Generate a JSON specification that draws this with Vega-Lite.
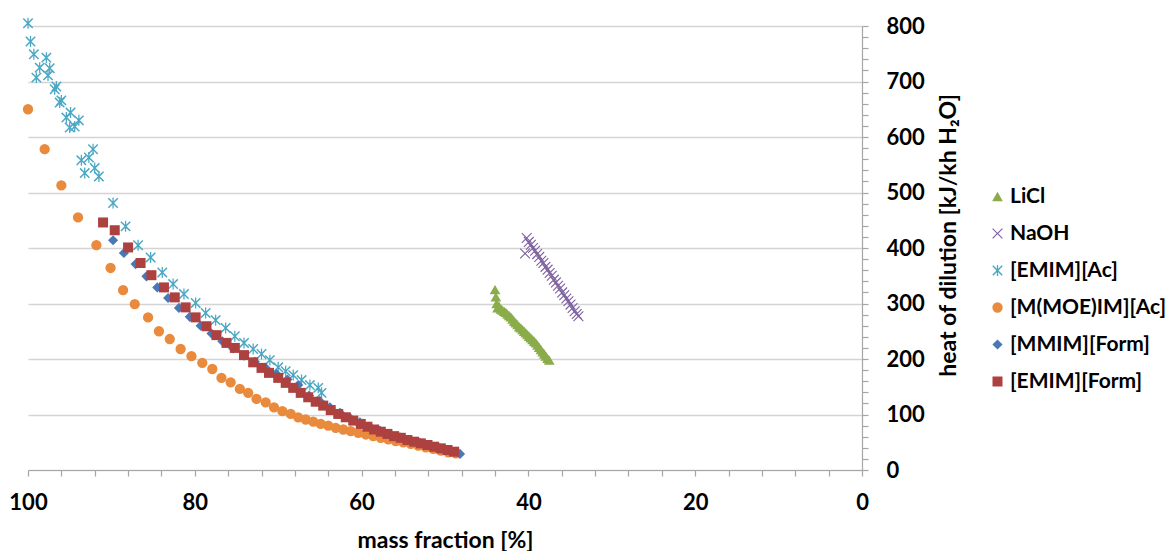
{
  "$schema": "https://vega.github.io/schema/vega-lite/v6.json",
  "autosize": {"type": "none"},
  "padding": {"left": 28, "top": 26, "right": 308, "bottom": 81},
  "width": 834,
  "height": 444,
  "background": "white",
  "config": {"view": {"stroke": null}, "font": "Lato"},
  "data": {"values": [
    {"series": "LiCl", "mf": 44.0, "h": 325}, {"series": "LiCl", "mf": 43.9, "h": 312}, {"series": "LiCl", "mf": 43.8, "h": 300},
    {"series": "LiCl", "mf": 43.7, "h": 292}, {"series": "LiCl", "mf": 43.5, "h": 295}, {"series": "LiCl", "mf": 43.3, "h": 290},
    {"series": "LiCl", "mf": 43.1, "h": 288}, {"series": "LiCl", "mf": 42.9, "h": 286}, {"series": "LiCl", "mf": 42.7, "h": 284},
    {"series": "LiCl", "mf": 42.5, "h": 281}, {"series": "LiCl", "mf": 42.3, "h": 278}, {"series": "LiCl", "mf": 42.1, "h": 276},
    {"series": "LiCl", "mf": 41.9, "h": 272}, {"series": "LiCl", "mf": 41.7, "h": 268}, {"series": "LiCl", "mf": 41.5, "h": 265},
    {"series": "LiCl", "mf": 41.3, "h": 262}, {"series": "LiCl", "mf": 41.1, "h": 258}, {"series": "LiCl", "mf": 40.9, "h": 256},
    {"series": "LiCl", "mf": 40.7, "h": 253}, {"series": "LiCl", "mf": 40.5, "h": 250}, {"series": "LiCl", "mf": 40.3, "h": 247},
    {"series": "LiCl", "mf": 40.1, "h": 244}, {"series": "LiCl", "mf": 39.9, "h": 241}, {"series": "LiCl", "mf": 39.7, "h": 238},
    {"series": "LiCl", "mf": 39.5, "h": 235}, {"series": "LiCl", "mf": 39.3, "h": 232}, {"series": "LiCl", "mf": 39.1, "h": 229},
    {"series": "LiCl", "mf": 38.9, "h": 225}, {"series": "LiCl", "mf": 38.7, "h": 221}, {"series": "LiCl", "mf": 38.5, "h": 217},
    {"series": "LiCl", "mf": 38.3, "h": 213}, {"series": "LiCl", "mf": 38.1, "h": 209}, {"series": "LiCl", "mf": 37.9, "h": 205},
    {"series": "LiCl", "mf": 37.7, "h": 201}, {"series": "LiCl", "mf": 37.5, "h": 198},
    {"series": "NaOH", "mf": 40.4, "h": 390}, {"series": "NaOH", "mf": 40.2, "h": 418}, {"series": "NaOH", "mf": 39.95, "h": 411},
    {"series": "NaOH", "mf": 39.7, "h": 406}, {"series": "NaOH", "mf": 39.45, "h": 400}, {"series": "NaOH", "mf": 39.2, "h": 395},
    {"series": "NaOH", "mf": 38.95, "h": 389}, {"series": "NaOH", "mf": 38.7, "h": 384}, {"series": "NaOH", "mf": 38.45, "h": 377},
    {"series": "NaOH", "mf": 38.2, "h": 373}, {"series": "NaOH", "mf": 37.95, "h": 366}, {"series": "NaOH", "mf": 37.7, "h": 361},
    {"series": "NaOH", "mf": 37.45, "h": 355}, {"series": "NaOH", "mf": 37.2, "h": 350}, {"series": "NaOH", "mf": 36.95, "h": 343},
    {"series": "NaOH", "mf": 36.7, "h": 338}, {"series": "NaOH", "mf": 36.45, "h": 332}, {"series": "NaOH", "mf": 36.2, "h": 327},
    {"series": "NaOH", "mf": 35.95, "h": 320}, {"series": "NaOH", "mf": 35.7, "h": 315}, {"series": "NaOH", "mf": 35.45, "h": 309},
    {"series": "NaOH", "mf": 35.2, "h": 304}, {"series": "NaOH", "mf": 34.95, "h": 298}, {"series": "NaOH", "mf": 34.7, "h": 292},
    {"series": "NaOH", "mf": 34.45, "h": 286}, {"series": "NaOH", "mf": 34.2, "h": 281}, {"series": "NaOH", "mf": 34.0, "h": 277},
    {"series": "[EMIM][Ac]", "mf": 100.0, "h": 805}, {"series": "[EMIM][Ac]", "mf": 99.7, "h": 772}, {"series": "[EMIM][Ac]", "mf": 99.3, "h": 749},
    {"series": "[EMIM][Ac]", "mf": 97.8, "h": 743}, {"series": "[EMIM][Ac]", "mf": 98.6, "h": 725}, {"series": "[EMIM][Ac]", "mf": 97.4, "h": 724},
    {"series": "[EMIM][Ac]", "mf": 99.0, "h": 707}, {"series": "[EMIM][Ac]", "mf": 97.6, "h": 711}, {"series": "[EMIM][Ac]", "mf": 96.6, "h": 691},
    {"series": "[EMIM][Ac]", "mf": 96.8, "h": 686}, {"series": "[EMIM][Ac]", "mf": 96.0, "h": 666}, {"series": "[EMIM][Ac]", "mf": 96.2, "h": 662},
    {"series": "[EMIM][Ac]", "mf": 94.9, "h": 644}, {"series": "[EMIM][Ac]", "mf": 95.4, "h": 635}, {"series": "[EMIM][Ac]", "mf": 93.9, "h": 630},
    {"series": "[EMIM][Ac]", "mf": 95.0, "h": 617}, {"series": "[EMIM][Ac]", "mf": 94.4, "h": 619}, {"series": "[EMIM][Ac]", "mf": 92.2, "h": 578},
    {"series": "[EMIM][Ac]", "mf": 93.6, "h": 558}, {"series": "[EMIM][Ac]", "mf": 92.7, "h": 563}, {"series": "[EMIM][Ac]", "mf": 92.0, "h": 544},
    {"series": "[EMIM][Ac]", "mf": 93.2, "h": 535}, {"series": "[EMIM][Ac]", "mf": 91.5, "h": 529}, {"series": "[EMIM][Ac]", "mf": 89.8, "h": 481},
    {"series": "[EMIM][Ac]", "mf": 88.3, "h": 439}, {"series": "[EMIM][Ac]", "mf": 86.8, "h": 405}, {"series": "[EMIM][Ac]", "mf": 85.3, "h": 383},
    {"series": "[EMIM][Ac]", "mf": 83.9, "h": 356}, {"series": "[EMIM][Ac]", "mf": 82.6, "h": 335}, {"series": "[EMIM][Ac]", "mf": 81.3, "h": 317},
    {"series": "[EMIM][Ac]", "mf": 79.9, "h": 301}, {"series": "[EMIM][Ac]", "mf": 78.7, "h": 283}, {"series": "[EMIM][Ac]", "mf": 77.5, "h": 270},
    {"series": "[EMIM][Ac]", "mf": 76.3, "h": 256}, {"series": "[EMIM][Ac]", "mf": 75.2, "h": 241}, {"series": "[EMIM][Ac]", "mf": 74.1, "h": 229},
    {"series": "[EMIM][Ac]", "mf": 73.0, "h": 218}, {"series": "[EMIM][Ac]", "mf": 72.0, "h": 209}, {"series": "[EMIM][Ac]", "mf": 71.0, "h": 198},
    {"series": "[EMIM][Ac]", "mf": 70.0, "h": 185}, {"series": "[EMIM][Ac]", "mf": 69.1, "h": 178}, {"series": "[EMIM][Ac]", "mf": 68.2, "h": 171},
    {"series": "[EMIM][Ac]", "mf": 67.2, "h": 162}, {"series": "[EMIM][Ac]", "mf": 66.2, "h": 153}, {"series": "[EMIM][Ac]", "mf": 65.2, "h": 148},
    {"series": "[EMIM][Ac]", "mf": 64.8, "h": 139},
    {"series": "[M(MOE)IM][Ac]", "mf": 100.0, "h": 650}, {"series": "[M(MOE)IM][Ac]", "mf": 98.0, "h": 578}, {"series": "[M(MOE)IM][Ac]", "mf": 96.0, "h": 513},
    {"series": "[M(MOE)IM][Ac]", "mf": 94.0, "h": 455}, {"series": "[M(MOE)IM][Ac]", "mf": 91.8, "h": 405}, {"series": "[M(MOE)IM][Ac]", "mf": 90.1, "h": 364},
    {"series": "[M(MOE)IM][Ac]", "mf": 88.6, "h": 324}, {"series": "[M(MOE)IM][Ac]", "mf": 87.2, "h": 299}, {"series": "[M(MOE)IM][Ac]", "mf": 85.6, "h": 275},
    {"series": "[M(MOE)IM][Ac]", "mf": 84.3, "h": 250}, {"series": "[M(MOE)IM][Ac]", "mf": 83.0, "h": 236}, {"series": "[M(MOE)IM][Ac]", "mf": 81.7, "h": 218},
    {"series": "[M(MOE)IM][Ac]", "mf": 80.4, "h": 205}, {"series": "[M(MOE)IM][Ac]", "mf": 79.1, "h": 193}, {"series": "[M(MOE)IM][Ac]", "mf": 77.9, "h": 182},
    {"series": "[M(MOE)IM][Ac]", "mf": 76.8, "h": 166}, {"series": "[M(MOE)IM][Ac]", "mf": 75.7, "h": 158}, {"series": "[M(MOE)IM][Ac]", "mf": 74.6, "h": 146},
    {"series": "[M(MOE)IM][Ac]", "mf": 73.6, "h": 139}, {"series": "[M(MOE)IM][Ac]", "mf": 72.6, "h": 128}, {"series": "[M(MOE)IM][Ac]", "mf": 71.5, "h": 122},
    {"series": "[M(MOE)IM][Ac]", "mf": 70.5, "h": 113}, {"series": "[M(MOE)IM][Ac]", "mf": 69.5, "h": 106}, {"series": "[M(MOE)IM][Ac]", "mf": 68.5, "h": 101},
    {"series": "[M(MOE)IM][Ac]", "mf": 67.6, "h": 95}, {"series": "[M(MOE)IM][Ac]", "mf": 66.7, "h": 91}, {"series": "[M(MOE)IM][Ac]", "mf": 65.8, "h": 87},
    {"series": "[M(MOE)IM][Ac]", "mf": 64.9, "h": 83}, {"series": "[M(MOE)IM][Ac]", "mf": 64.0, "h": 80}, {"series": "[M(MOE)IM][Ac]", "mf": 63.1, "h": 76},
    {"series": "[M(MOE)IM][Ac]", "mf": 62.2, "h": 73}, {"series": "[M(MOE)IM][Ac]", "mf": 61.3, "h": 70}, {"series": "[M(MOE)IM][Ac]", "mf": 60.4, "h": 67},
    {"series": "[M(MOE)IM][Ac]", "mf": 59.5, "h": 64}, {"series": "[M(MOE)IM][Ac]", "mf": 58.6, "h": 61}, {"series": "[M(MOE)IM][Ac]", "mf": 57.7, "h": 58},
    {"series": "[M(MOE)IM][Ac]", "mf": 56.8, "h": 55}, {"series": "[M(MOE)IM][Ac]", "mf": 55.9, "h": 52}, {"series": "[M(MOE)IM][Ac]", "mf": 55.0, "h": 50},
    {"series": "[M(MOE)IM][Ac]", "mf": 54.1, "h": 47}, {"series": "[M(MOE)IM][Ac]", "mf": 53.2, "h": 44}, {"series": "[M(MOE)IM][Ac]", "mf": 52.3, "h": 41},
    {"series": "[M(MOE)IM][Ac]", "mf": 51.4, "h": 38}, {"series": "[M(MOE)IM][Ac]", "mf": 50.5, "h": 35}, {"series": "[M(MOE)IM][Ac]", "mf": 49.6, "h": 32},
    {"series": "[M(MOE)IM][Ac]", "mf": 48.7, "h": 30},
    {"series": "[MMIM][Form]", "mf": 89.8, "h": 414}, {"series": "[MMIM][Form]", "mf": 88.5, "h": 391}, {"series": "[MMIM][Form]", "mf": 87.1, "h": 371},
    {"series": "[MMIM][Form]", "mf": 85.8, "h": 349}, {"series": "[MMIM][Form]", "mf": 84.5, "h": 329}, {"series": "[MMIM][Form]", "mf": 83.2, "h": 310},
    {"series": "[MMIM][Form]", "mf": 81.9, "h": 292}, {"series": "[MMIM][Form]", "mf": 80.6, "h": 276}, {"series": "[MMIM][Form]", "mf": 79.3, "h": 260},
    {"series": "[MMIM][Form]", "mf": 78.0, "h": 246}, {"series": "[MMIM][Form]", "mf": 76.7, "h": 232}, {"series": "[MMIM][Form]", "mf": 75.4, "h": 219},
    {"series": "[MMIM][Form]", "mf": 74.1, "h": 206}, {"series": "[MMIM][Form]", "mf": 72.8, "h": 195}, {"series": "[MMIM][Form]", "mf": 71.5, "h": 184},
    {"series": "[MMIM][Form]", "mf": 70.2, "h": 173}, {"series": "[MMIM][Form]", "mf": 68.9, "h": 163}, {"series": "[MMIM][Form]", "mf": 67.6, "h": 153},
    {"series": "[MMIM][Form]", "mf": 66.3, "h": 134}, {"series": "[MMIM][Form]", "mf": 65.0, "h": 124}, {"series": "[MMIM][Form]", "mf": 63.8, "h": 113},
    {"series": "[MMIM][Form]", "mf": 62.6, "h": 103}, {"series": "[MMIM][Form]", "mf": 61.4, "h": 94}, {"series": "[MMIM][Form]", "mf": 60.2, "h": 86},
    {"series": "[MMIM][Form]", "mf": 59.0, "h": 78}, {"series": "[MMIM][Form]", "mf": 57.8, "h": 71}, {"series": "[MMIM][Form]", "mf": 56.6, "h": 65},
    {"series": "[MMIM][Form]", "mf": 55.4, "h": 59}, {"series": "[MMIM][Form]", "mf": 54.2, "h": 54}, {"series": "[MMIM][Form]", "mf": 53.0, "h": 49},
    {"series": "[MMIM][Form]", "mf": 51.8, "h": 44}, {"series": "[MMIM][Form]", "mf": 50.6, "h": 39}, {"series": "[MMIM][Form]", "mf": 49.4, "h": 34},
    {"series": "[MMIM][Form]", "mf": 48.2, "h": 29},
    {"series": "[EMIM][Form]", "mf": 91.0, "h": 446}, {"series": "[EMIM][Form]", "mf": 89.6, "h": 432}, {"series": "[EMIM][Form]", "mf": 88.0, "h": 401},
    {"series": "[EMIM][Form]", "mf": 86.5, "h": 373}, {"series": "[EMIM][Form]", "mf": 85.2, "h": 351}, {"series": "[EMIM][Form]", "mf": 83.7, "h": 329},
    {"series": "[EMIM][Form]", "mf": 82.4, "h": 311}, {"series": "[EMIM][Form]", "mf": 81.1, "h": 293}, {"series": "[EMIM][Form]", "mf": 79.9, "h": 275},
    {"series": "[EMIM][Form]", "mf": 78.6, "h": 259}, {"series": "[EMIM][Form]", "mf": 77.4, "h": 243}, {"series": "[EMIM][Form]", "mf": 76.2, "h": 229},
    {"series": "[EMIM][Form]", "mf": 75.2, "h": 220}, {"series": "[EMIM][Form]", "mf": 74.1, "h": 207}, {"series": "[EMIM][Form]", "mf": 73.0, "h": 194},
    {"series": "[EMIM][Form]", "mf": 72.0, "h": 184}, {"series": "[EMIM][Form]", "mf": 71.1, "h": 175}, {"series": "[EMIM][Form]", "mf": 70.0, "h": 166},
    {"series": "[EMIM][Form]", "mf": 69.1, "h": 157}, {"series": "[EMIM][Form]", "mf": 68.2, "h": 148}, {"series": "[EMIM][Form]", "mf": 67.3, "h": 139},
    {"series": "[EMIM][Form]", "mf": 66.4, "h": 131}, {"series": "[EMIM][Form]", "mf": 65.5, "h": 123}, {"series": "[EMIM][Form]", "mf": 64.6, "h": 116},
    {"series": "[EMIM][Form]", "mf": 63.7, "h": 108}, {"series": "[EMIM][Form]", "mf": 62.8, "h": 101}, {"series": "[EMIM][Form]", "mf": 61.9, "h": 95},
    {"series": "[EMIM][Form]", "mf": 61.0, "h": 89}, {"series": "[EMIM][Form]", "mf": 60.1, "h": 83}, {"series": "[EMIM][Form]", "mf": 59.3, "h": 78},
    {"series": "[EMIM][Form]", "mf": 58.5, "h": 73}, {"series": "[EMIM][Form]", "mf": 57.7, "h": 69}, {"series": "[EMIM][Form]", "mf": 56.9, "h": 65},
    {"series": "[EMIM][Form]", "mf": 56.1, "h": 61}, {"series": "[EMIM][Form]", "mf": 55.3, "h": 58}, {"series": "[EMIM][Form]", "mf": 54.5, "h": 54},
    {"series": "[EMIM][Form]", "mf": 53.7, "h": 51}, {"series": "[EMIM][Form]", "mf": 52.9, "h": 48}, {"series": "[EMIM][Form]", "mf": 52.1, "h": 45},
    {"series": "[EMIM][Form]", "mf": 51.3, "h": 42}, {"series": "[EMIM][Form]", "mf": 50.5, "h": 39}, {"series": "[EMIM][Form]", "mf": 49.7, "h": 36},
    {"series": "[EMIM][Form]", "mf": 48.9, "h": 33}
  ]},
  "mark": {"type": "point", "filled": true, "opacity": 1, "strokeWidth": 0},
  "encoding": {
    "x": {
      "field": "mf", "type": "quantitative",
      "scale": {"domain": [0, 100], "reverse": true, "nice": false, "zero": false},
      "axis": {
        "title": "mass fraction [%]",
        "values": [0,4,8,12,16,20,24,28,32,36,40,44,48,52,56,60,64,68,72,76,80,84,88,92,96,100],
        "labelExpr": "datum.value % 20 === 0 ? datum.label : ''",
        "labelOverlap": false,
        "labelFlush": false,
        "grid": false,
        "domainColor": "#A6A6A6", "domainWidth": 1.2,
        "tickColor": "#A6A6A6", "tickSize": 6, "tickWidth": 1.2,
        "labelFont": "Lato", "labelFontSize": 22, "labelFontWeight": "bold", "labelColor": "#000000",
        "labelPadding": 16,
        "titleFont": "Lato", "titleFontSize": 23, "titleFontWeight": "bold", "titleColor": "#000000",
        "titleBaseline": "alphabetic", "titleY": 77, "titleX": 417, "titleAnchor": "middle"
      }
    },
    "y": {
      "field": "h", "type": "quantitative",
      "scale": {"domain": [0, 800], "nice": false},
      "axis": {
        "orient": "right",
        "title": "heat of dilution [kJ/kh H₂O]",
        "values": [0,20,40,60,80,100,120,140,160,180,200,220,240,260,280,300,320,340,360,380,400,420,440,460,480,500,520,540,560,580,600,620,640,660,680,700,720,740,760,780,800],
        "labelExpr": "datum.value % 100 === 0 ? datum.label : ''",
        "labelOverlap": false,
        "labelFlush": false,
        "grid": true,
        "gridColor": "#D4D4D4", "gridWidth": 1.3,
        "gridOpacity": {"condition": {"test": "datum.value % 100 === 0", "value": 1}, "value": 0},
        "domainColor": "#A6A6A6", "domainWidth": 1.2,
        "tickColor": "#A6A6A6", "tickSize": 6, "tickWidth": 1.2,
        "labelFont": "Lato", "labelFontSize": 22, "labelFontWeight": "bold", "labelColor": "#000000",
        "labelPadding": 18,
        "titleFont": "Lato", "titleFontSize": 23, "titleFontWeight": "bold", "titleColor": "#000000",
        "titleAngle": 270, "titleX": 86, "titleY": 209, "titleAlign": "center", "titleBaseline": "middle"
      }
    },
    "color": {
      "field": "series", "type": "nominal",
      "scale": {
        "domain": ["LiCl", "NaOH", "[EMIM][Ac]", "[M(MOE)IM][Ac]", "[MMIM][Form]", "[EMIM][Form]"],
        "range": ["#8AAC4A", "#7E62A1", "#4BA8C4", "#E98A3C", "#4A78B6", "#AD4140"]
      },
      "sort": null,
      "legend": {
        "title": null,
        "orient": "none", "legendX": 959, "legendY": 160,
        "padding": 0,
        "labelFont": "Lato", "labelFontSize": 21, "labelFontWeight": "bold", "labelColor": "#000000",
        "labelOffset": 2, "rowPadding": 15, "symbolSize": 100,
        "labelLimit": 300,
        "encode": {"symbols": {"update": {"size": {"value": 100}}}}
      }
    },
    "shape": {
      "field": "series", "type": "nominal",
      "scale": {
        "domain": ["LiCl", "NaOH", "[EMIM][Ac]", "[M(MOE)IM][Ac]", "[MMIM][Form]", "[EMIM][Form]"],
        "range": [
          "triangle-up",
          "M-1,-0.85L-0.85,-1L0,-0.15L0.85,-1L1,-0.85L0.15,0L1,0.85L0.85,1L0,0.15L-0.85,1L-1,0.85L-0.15,0Z",
          "M-1,-0.8L-0.8,-1L0,-0.2L0.8,-1L1,-0.8L0.2,0L1,0.8L0.8,1L0,0.2L-0.8,1L-1,0.8L-0.2,0ZM-0.12,-1.05L0.12,-1.05L0.12,1.05L-0.12,1.05Z",
          "circle",
          "diamond",
          "square"
        ]
      }
    },
    "size": {
      "field": "series", "type": "nominal",
      "scale": {
        "domain": ["LiCl", "NaOH", "[EMIM][Ac]", "[M(MOE)IM][Ac]", "[MMIM][Form]", "[EMIM][Form]"],
        "range": [115, 100, 155, 135, 90, 155]
      }
    }
  }
}
